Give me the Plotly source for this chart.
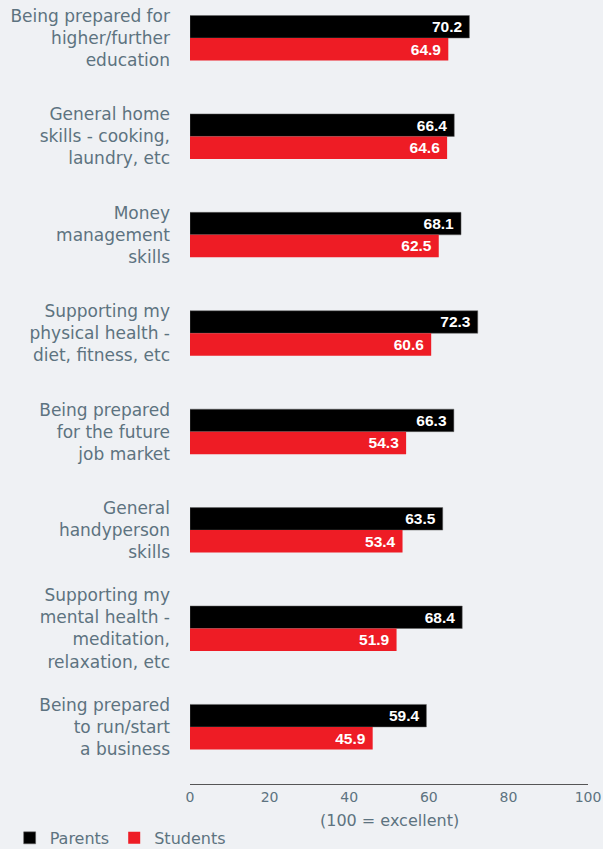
import plotly.graph_objects as go

categories = [
    "Being prepared for<br>higher/further<br>education",
    "General home<br>skills - cooking,<br>laundry, etc",
    "Money<br>management<br>skills",
    "Supporting my<br>physical health -<br>diet, fitness, etc",
    "Being prepared<br>for the future<br>job market",
    "General<br>handyperson<br>skills",
    "Supporting my<br>mental health -<br>meditation,<br>relaxation, etc",
    "Being prepared<br>to run/start<br>a business",
]
parents = [70.2, 66.4, 68.1, 72.3, 66.3, 63.5, 68.4, 59.4]
students = [64.9, 64.6, 62.5, 60.6, 54.3, 53.4, 51.9, 45.9]
x_ticks = [0, 20, 40, 60, 80, 100]
x_title = "(100 = excellent)"

TEXT = "#5d7380"
BG = "#eff1f4"
FONT = "DejaVu Sans"
VFONT = dict(color="white", size=16, family="Liberation Sans", weight="bold")

fig = go.Figure()
fig.add_trace(go.Bar(
    name="Parents", y=categories, x=parents, orientation="h",
    marker=dict(color="#000000", line=dict(color="#666666", width=0.5)),
    texttemplate="%{x:.1f}\u00a0", textposition="inside",
    insidetextanchor="end", textfont=VFONT,
))
fig.add_trace(go.Bar(
    name="Students", y=categories, x=students, orientation="h",
    marker=dict(color="#ee1c25", line=dict(width=0)),
    texttemplate="%{x:.1f}\u00a0", textposition="inside",
    insidetextanchor="end", textfont=VFONT,
))

fig.add_annotation(
    text=x_title, xref="paper", yref="paper", x=0.5, y=-0.046,
    xanchor="center", yanchor="middle", showarrow=False,
    font=dict(size=16, color=TEXT, family=FONT),
)

fig.update_layout(
    width=603, height=849,
    barmode="group", bargap=0.543, bargroupgap=0,
    paper_bgcolor=BG, plot_bgcolor=BG,
    margin=dict(l=190, r=15, t=0, b=65, autoexpand=False),
    font=dict(family=FONT, color=TEXT, size=17),
    legend=dict(
        orientation="h", xref="container", yref="container",
        x=0.016, y=0.013, xanchor="left", yanchor="middle",
        font=dict(size=16, color=TEXT), itemwidth=30,
        traceorder="normal", bgcolor="rgba(0,0,0,0)",
    ),
    xaxis=dict(
        range=[0, 100], tickvals=x_ticks, showgrid=False, zeroline=False,
        showline=True, linecolor="#555555", linewidth=1, automargin=False,
        ticks="", tickfont=dict(size=14, color=TEXT),
    ),
    yaxis=dict(
        range=[7.58, -0.386], showgrid=False, zeroline=False, showline=False,
        automargin=False,
        ticks="", tickfont=dict(size=17, color=TEXT), ticklabelstandoff=19,
    ),
)

fig.write_html("out.html")
